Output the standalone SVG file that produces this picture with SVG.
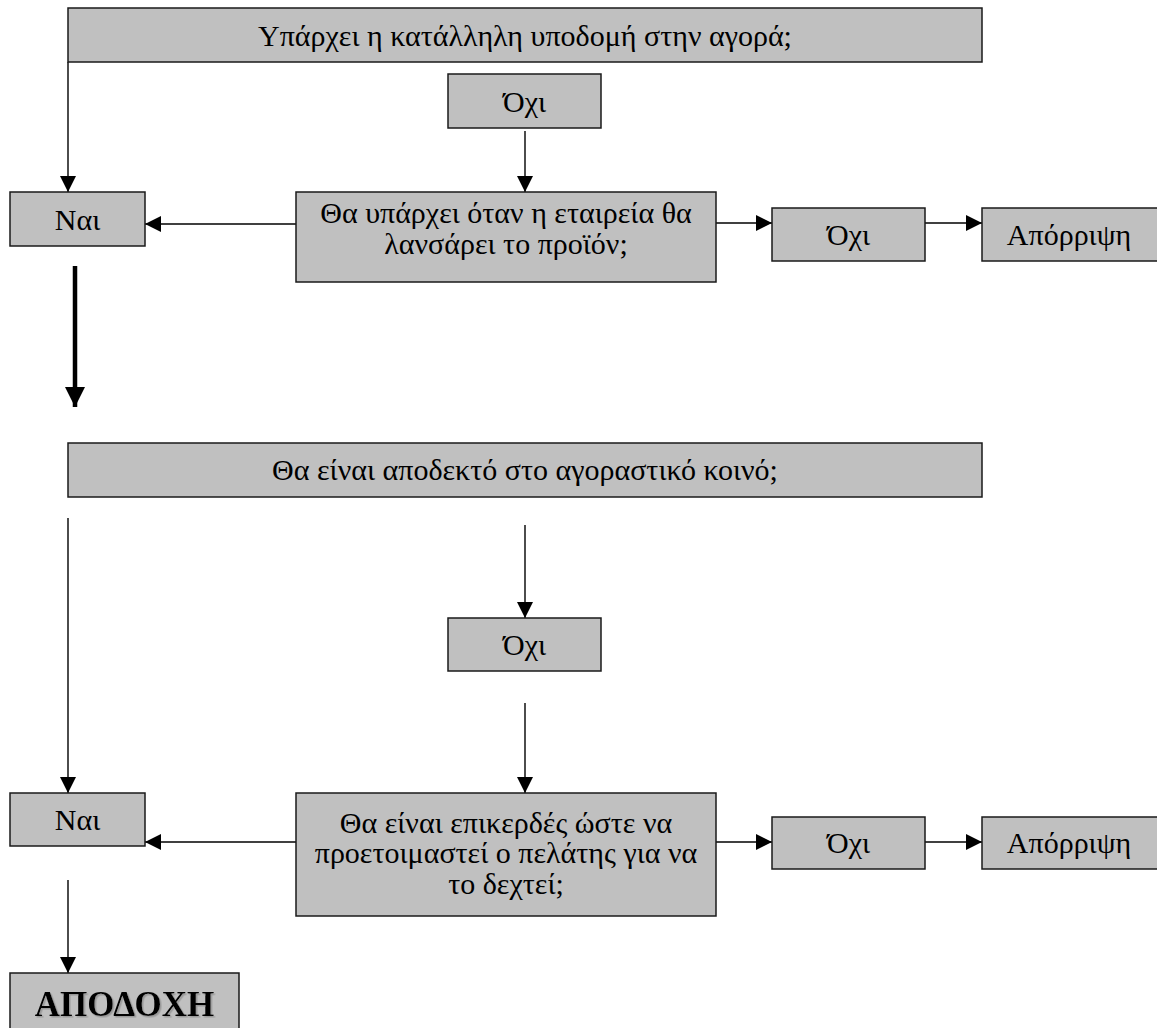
<svg xmlns="http://www.w3.org/2000/svg" width="1157" height="1028" viewBox="0 0 1157 1028">
  <style>
    .box { fill: #c0c0c0; stroke: #1a1a1a; stroke-width: 1.5; }
    .lbl { font-family: "Liberation Serif", "Times New Roman", serif; font-size: 30px; fill: #000; text-anchor: middle; }
    .big { font-family: "Liberation Serif", "Times New Roman", serif; font-size: 35px; font-weight: bold; fill: #000; text-anchor: middle; }
    .edge { stroke: #000; stroke-width: 1.4; fill: none; marker-end: url(#head); }
    .edge-thick { stroke: #000; stroke-width: 4.5; fill: none; marker-end: url(#head-thick); }
  </style>
  <defs>
    <marker id="head" markerUnits="userSpaceOnUse" markerWidth="16" markerHeight="16" refX="16" refY="8" orient="auto">
      <path d="M0,0 L16,8 L0,16 z" fill="#000"/>
    </marker>
    <marker id="head-thick" markerUnits="userSpaceOnUse" markerWidth="20" markerHeight="20" refX="20" refY="10" orient="auto">
      <path d="M0,0 L20,10 L0,20 z" fill="#000"/>
    </marker>
    <filter id="shadow" x="-10%" y="-20%" width="120%" height="150%">
      <feDropShadow dx="1.5" dy="1.5" stdDeviation="0.4" flood-color="#999" flood-opacity="1"/>
    </filter>
  </defs>

  <rect width="1157" height="1028" fill="#fff"/>

  <!-- connectors -->
  <g id="connectors">
    <line class="edge" x1="68" y1="62" x2="68" y2="192"/>
    <line class="edge" x1="525" y1="131" x2="525" y2="192"/>
    <line class="edge" x1="296" y1="224" x2="145" y2="224"/>
    <line class="edge" x1="716" y1="223" x2="772" y2="223"/>
    <line class="edge" x1="925" y1="223" x2="982" y2="223"/>
    <line class="edge-thick" x1="75" y1="266" x2="75" y2="407"/>
    <line class="edge" x1="68" y1="518" x2="68" y2="793"/>
    <line class="edge" x1="525" y1="525" x2="525" y2="618"/>
    <line class="edge" x1="525" y1="703" x2="525" y2="793"/>
    <line class="edge" x1="296" y1="842" x2="145" y2="842"/>
    <line class="edge" x1="716" y1="842" x2="772" y2="842"/>
    <line class="edge" x1="925" y1="842" x2="982" y2="842"/>
    <line class="edge" x1="68" y1="880" x2="68" y2="973"/>
  </g>

  <!-- first question -->
  <g id="q-infrastructure">
    <rect class="box" x="68" y="8" width="914" height="54"/>
    <text class="lbl" x="525" y="46">Υπάρχει η κατάλληλη υποδομή στην αγορά;</text>
  </g>
  <g id="no-1">
    <rect class="box" x="448" y="74" width="153" height="54"/>
    <text class="lbl" x="524.5" y="112">Όχι</text>
  </g>
  <g id="yes-1">
    <rect class="box" x="10" y="192" width="135" height="54"/>
    <text class="lbl" x="77.5" y="230">Ναι</text>
  </g>
  <g id="q-launch">
    <rect class="box" x="296" y="192" width="420" height="90"/>
    <text class="lbl" x="506" y="223">Θα υπάρχει όταν η εταιρεία θα</text>
    <text class="lbl" x="506" y="254">λανσάρει το προϊόν;</text>
  </g>
  <g id="no-2">
    <rect class="box" x="772" y="208" width="153" height="53"/>
    <text class="lbl" x="848.5" y="245">Όχι</text>
  </g>
  <g id="reject-1">
    <rect class="box" x="982" y="208" width="180" height="53"/>
    <text class="lbl" x="1069" y="245">Απόρριψη</text>
  </g>

  <!-- second question -->
  <g id="q-acceptance">
    <rect class="box" x="68" y="443" width="914" height="54"/>
    <text class="lbl" x="525" y="480">Θα είναι αποδεκτό στο αγοραστικό κοινό;</text>
  </g>
  <g id="no-3">
    <rect class="box" x="448" y="618" width="153" height="53"/>
    <text class="lbl" x="524.5" y="655">Όχι</text>
  </g>
  <g id="yes-2">
    <rect class="box" x="10" y="793" width="135" height="53"/>
    <text class="lbl" x="77.5" y="830">Ναι</text>
  </g>
  <g id="q-profit">
    <rect class="box" x="296" y="793" width="420" height="123"/>
    <text class="lbl" x="506" y="833">Θα είναι επικερδές ώστε να</text>
    <text class="lbl" x="506" y="863">προετοιμαστεί ο πελάτης για να</text>
    <text class="lbl" x="506" y="894">το δεχτεί;</text>
  </g>
  <g id="no-4">
    <rect class="box" x="772" y="817" width="153" height="52"/>
    <text class="lbl" x="848.5" y="853">Όχι</text>
  </g>
  <g id="reject-2">
    <rect class="box" x="982" y="817" width="180" height="52"/>
    <text class="lbl" x="1069" y="853">Απόρριψη</text>
  </g>

  <!-- outcome -->
  <g id="accept">
    <rect class="box" x="10" y="973" width="229" height="70"/>
    <text class="big" x="124.5" y="1016" filter="url(#shadow)">ΑΠΟΔΟΧΗ</text>
  </g>
</svg>
